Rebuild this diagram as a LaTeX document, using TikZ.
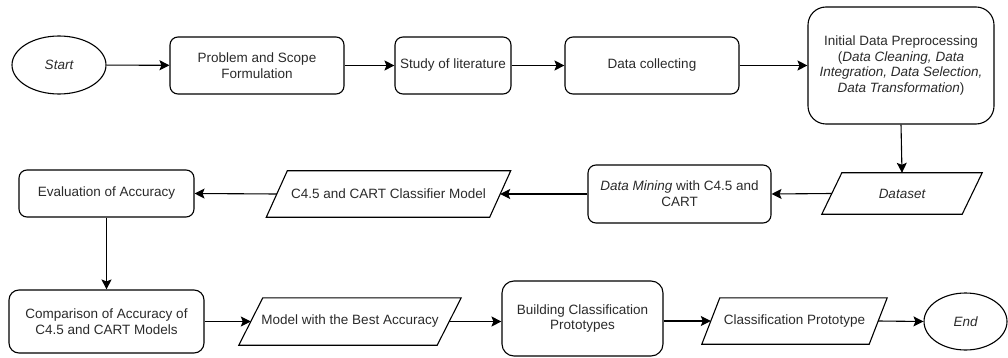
\documentclass[tikz,border=0pt]{standalone}
\usepackage{fontspec}
\setmainfont{Liberation Sans}
\usetikzlibrary{shapes.geometric,arrows.meta}
\definecolor{txt}{HTML}{2A2A2A}
\begin{document}
\begin{tikzpicture}[x=1pt,y=-1pt,
  lw/.style={line width=1.1pt},
  box/.style={draw,lw,rounded corners=8pt,align=center,inner sep=2pt,text=txt,
    font=\fontsize{13.5}{15.7}\selectfont},
  term/.style={draw,lw,ellipse,inner sep=0pt,text=txt,
    font=\fontsize{13.5}{15.7}\selectfont\itshape},
  para/.style={align=center,inner sep=0pt,text=txt,
    font=\fontsize{13.5}{15.7}\selectfont},
  arr/.style={lw,-{Stealth[length=10pt,width=10pt,inset=2pt]}}]
\useasboundingbox (0,0) rectangle (1008,358);

% row 1
\node[term,minimum width=94pt,minimum height=58pt] (start) at (59,65) {Start};
\node[box,minimum width=174pt,minimum height=57pt] (prob) at (257,65.5) {Problem and Scope\\Formulation};
\node[box,minimum width=116pt,minimum height=57pt] (study) at (453,65.5) {Study of literature};
\node[box,minimum width=174pt,minimum height=57pt] (dc) at (652,65.5) {Data collecting};
\node[box,rounded corners=18pt,minimum width=186pt,minimum height=117pt] (idp) at (901,65.5)
  {Initial Data Preprocessing\\(\textit{Data Cleaning, Data}\\\textit{Integration, Data Selection,}\\\textit{Data Transformation})};

% row 2
\node[para,minimum width=140pt,minimum height=41pt,font=\fontsize{13.5}{15.7}\selectfont\itshape] (ds) at (902,193.5) {Dataset};
\node[box,minimum width=183pt,minimum height=58pt] (dm) at (679.5,194) {\textit{Data Mining} with C4.5 and\\CART};
\node[para,minimum width=223pt,minimum height=46pt] (cm) at (388.5,194) {C4.5 and CART Classifier Model};
\node[box,minimum width=175pt,minimum height=47pt] (ev) at (106.5,193.5) {Evaluation of Accuracy};

% row 3
\node[box,rounded corners=10pt,minimum width=195pt,minimum height=63pt] (cmp) at (106.5,321.5) {Comparison of Accuracy of\\C4.5 and CART Models};
\node[para,minimum width=198pt,minimum height=47pt] (mb) at (350,321.5) {Model with the Best Accuracy};
\node[box,rounded corners=12pt,minimum width=161pt,minimum height=75pt] (bc) at (582.5,318.5) {Building Classification\\Prototypes};
\node[para,minimum width=167pt,minimum height=46pt] (cp) at (794.5,321) {Classification Prototype};
\node[term,minimum width=83pt,minimum height=57pt] (end) at (965.5,321.5) {End};

% parallelogram outlines
\foreach \n/\d in {ds/20,cm/21,mb/24,cp/18}{
  \draw[lw,line join=miter] ([xshift={-0.5*\d}]\n.south west) -- ([xshift={0.5*\d}]\n.north west)
    -- ([xshift={0.5*\d}]\n.north east) -- ([xshift={-0.5*\d}]\n.south east) -- cycle;
}

% connectors
\draw[arr] (start) -- (prob);
\draw[arr] (prob) -- (study);
\draw[arr] (study) -- (dc);
\draw[arr] (dc) -- (idp);
\draw[arr] (idp.south) -- (ds.north);
\draw[arr] (ds.west) -- (dm.east);
\draw[arr] (dm.west) -- (cm.east);
\draw[arr] (cm.west) -- (ev.east);
\draw[arr] (ev.south) -- (cmp.north);
\draw[arr] (cmp.east) -- (mb.west);
\draw[arr] (mb.east) -- (mb.east -| bc.west);
\draw[arr] (bc.east |- cp.west) -- (cp.west);
\draw[arr] (cp.east) -- (end.west);
\end{tikzpicture}
\end{document}
